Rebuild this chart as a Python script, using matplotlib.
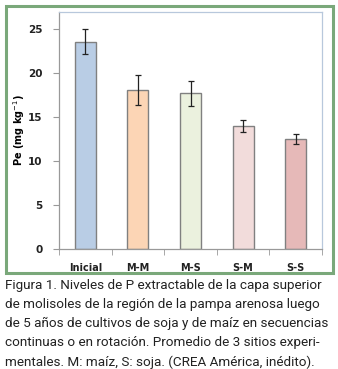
import matplotlib.pyplot as plt
from matplotlib.patches import Rectangle

categories = ['Inicial', 'M-M', 'M-S', 'S-M', 'S-S']
values = [23.5, 18.0, 17.7, 14.0, 12.5]
err_low = [22.1, 16.3, 16.2, 13.3, 11.9]
err_high = [25.0, 19.7, 19.1, 14.6, 13.0]
colors = ['#b9cde5', '#fcd5b5', '#ebf1de', '#f2dcdb', '#e6b9b8']
yticks = [0, 5, 10, 15, 20, 25]

caption = ("Figura 1. Niveles de P extractable de la capa superior\n"
           "de molisoles de la región de la pampa arenosa luego\n"
           "de 5 años de cultivos de soja y de maíz en secuencias\n"
           "continuas o en rotación. Promedio de 3 sitios experi-\n"
           "mentales. M: maíz, S: soja. (CREA América, inédito).")

W, H = 338, 369
fig = plt.figure(figsize=(W / 100, H / 100), dpi=100)

# outer green frame
fig.patches.append(Rectangle((6 / W, 1 - 273 / H), 327 / W, 267 / H,
                             transform=fig.transFigure, fill=False,
                             edgecolor='#7aa87a', linewidth=2.2))

ax = fig.add_axes([59 / W, 1 - 249 / H, 263 / W, 237 / H])
yerr = [[v - lo for v, lo in zip(values, err_low)],
        [hi - v for v, hi in zip(values, err_high)]]
x = range(len(categories))
ax.bar(x, values, width=0.4, color=colors, edgecolor='#808080', linewidth=1.0,
       yerr=yerr, error_kw=dict(ecolor='#222222', elinewidth=0.9, capsize=2.5, capthick=0.9))

ax.set_xlim(-0.5, 4.5)
ax.set_ylim(0, 26.9)
ax.set_yticks(yticks)
ax.set_xticks(x)
ax.set_xticklabels(categories, fontsize=7, fontweight='bold', color='#222222')
ax.tick_params(axis='x', which='major', length=0, pad=10)
ax.set_xticks([-0.5, 0.5, 1.5, 2.5, 3.5, 4.5], minor=True)
ax.tick_params(axis='x', which='minor', length=4, color='#999999', direction='out')
ax.tick_params(axis='y', which='major', length=4, color='#999999', labelsize=7.5, pad=8)
for lbl in ax.get_yticklabels():
    lbl.set_fontweight('bold')
    lbl.set_color('#222222')
ax.set_ylabel('Pe (mg kg$^{-1}$)', fontsize=7, fontweight='bold')
ax.yaxis.set_label_coords(-32 / 263, (249 - 130) / 237)

for side in ['top', 'right']:
    ax.spines[side].set_color('#b8c8dc')
ax.spines['left'].set_color('#999999')
ax.spines['bottom'].set_color('#999999')
for s in ax.spines.values():
    s.set_linewidth(0.9)

fig.text(5 / W, 1 - 279 / H, caption, ha='left', va='top', fontsize=9.7,
         family='Roboto', color='#222222', linespacing=1.6)

fig.savefig('out.png', dpi=100)
